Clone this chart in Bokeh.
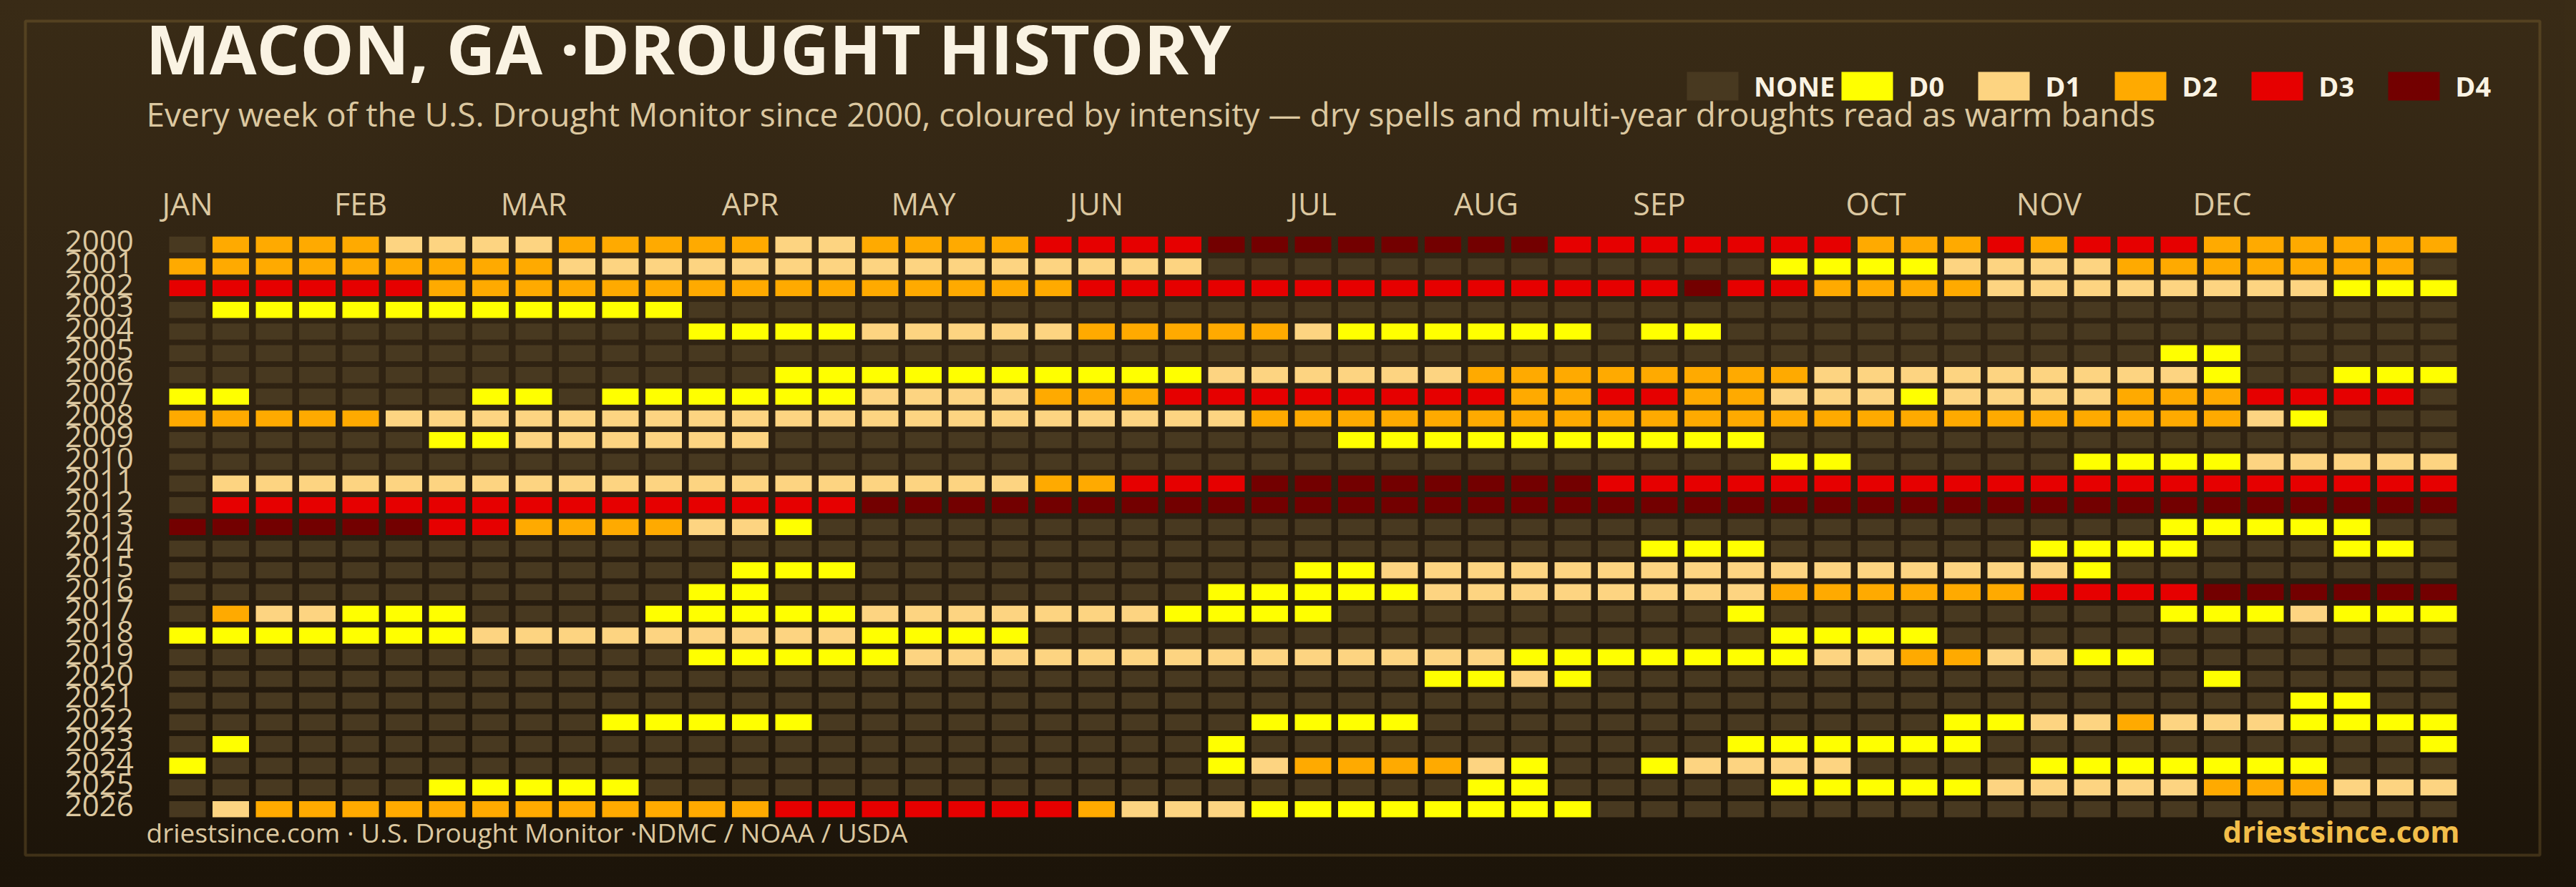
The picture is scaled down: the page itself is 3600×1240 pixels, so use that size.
from bokeh.plotting import figure
from bokeh.models import (Range1d, Label, Legend, LegendItem,
                          BoxAnnotation, InlineStyleSheet)
from bokeh.core.properties import value
from bokeh.embed import file_html
from bokeh.resources import INLINE

# ---------------- data ----------------
years = list(range(2000, 2027))
# one string per year, one character per week (53 weeks):
# '-' = none, '0'..'4' = D0..D4
week_codes = [
    "-" + "2222" + "1111" + "22222" + "11" + "2222" + "3333" + "44444444" + "3333333" + "222" + "3" + "2" + "333" + "222222",
    "222222222" + "111111111111111" + "-------------" + "0000" + "1111" + "2222222" + "-",
    "333333" + "222222222222222" + "33333333333333" + "4" + "33" + "2222" + "11111111" + "000",
    "-" + "00000000000" + "-" * 41,
    "-" * 12 + "0000" + "11111" + "22222" + "1" + "000000" + "-" + "00" + "-" * 17,
    "-" * 46 + "00" + "-----",
    "-" * 14 + "0000000000" + "111111" + "22222222" + "111111111" + "0" + "--" + "000",
    "00" + "-----" + "00" + "-" + "000000" + "1111" + "222" + "33333333" + "22" + "33" + "22" + "111" + "0" + "1111" + "222" + "3333" + "-",
    "22222" + "1" * 20 + "2" * 23 + "1" + "0" + "---",
    "------" + "00" + "111111" + "-" * 13 + "0" * 10 + "-" * 16,
    "-" * 37 + "00" + "-----" + "0000" + "11111",
    "-" + "1" * 19 + "22" + "333" + "44444444" + "3" * 20,
    "-" + "3" * 15 + "4" * 37,
    "444444" + "33" + "2222" + "11" + "0" + "-" * 31 + "00000" + "--",
    "-" * 34 + "000" + "------" + "0000" + "---" + "00" + "-",
    "-" * 13 + "000" + "-" * 10 + "00" + "1" * 16 + "0" + "-" * 8,
    "-" * 12 + "00" + "-" * 10 + "00000" + "11111111" + "222222" + "3333" + "444444",
    "-" + "2" + "11" + "000" + "----" + "00000" + "1111111" + "0000" + "-" * 9 + "0" + "-" * 9 + "000" + "1" + "000",
    "0" * 7 + "1" * 9 + "0000" + "-" * 17 + "0000" + "-" * 12,
    "-" * 12 + "00000" + "1" * 14 + "0" * 7 + "11" + "22" + "11" + "00" + "-" * 7,
    "-" * 29 + "00" + "1" + "0" + "-" * 14 + "0" + "-----",
    "-" * 49 + "00" + "--",
    "-" * 10 + "00000" + "-" * 10 + "0000" + "-" * 12 + "00" + "11" + "2" + "111" + "0000",
    "-" + "0" + "-" * 22 + "0" + "-" * 11 + "000000" + "-" * 10 + "0",
    "0" + "-" * 23 + "0" + "1" + "2222" + "1" + "0" + "--" + "0" + "1111" + "----" + "0000000" + "---",
    "------" + "00000" + "-" * 19 + "00" + "-----" + "00000" + "11111" + "222" + "111",
    "-" + "1" + "2" * 12 + "3" * 7 + "2" + "111" + "0" * 8 + "-" * 20,
]
category_codes = ["-", "0", "1", "2", "3", "4"]
category_names = ["NONE", "D0", "D1", "D2", "D3", "D4"]
category_colors = ["#483920", "#ffff00", "#fdd481", "#ffaa00", "#e60000", "#730000"]
month_names = ["JAN", "FEB", "MAR", "APR", "MAY", "JUN",
               "JUL", "AUG", "SEP", "OCT", "NOV", "DEC"]
month_weeks = [0, 4, 8, 13, 17, 21, 26, 30, 34, 39, 43, 47]

# ---------------- styling ----------------
FONT = "Open Sans"
CREAM = "#faf3e3"
TAN = "#dcc8a0"
GOLD = "#f2be4a"

W, H = 3584, 1224
PX, PY = 60.5, 30.35          # pixels per week / per year row
X0, Y0 = 261.5, 341.6          # pixel centre of first cell (week 0, year 2000)
x_start = -X0 / PX
y_top = years[0] - Y0 / PY

p = figure(width=W, height=H, output_backend="svg", toolbar_location=None,
           x_range=Range1d(x_start, x_start + W / PX),
           y_range=Range1d(y_top + H / PY, y_top),
           x_axis_type=None, y_axis_type=None,
           min_border=0)
p.background_fill_alpha = 0
p.border_fill_alpha = 0
p.outline_line_color = None
p.grid.visible = False
p.stylesheets = [InlineStyleSheet(css=":host { background: linear-gradient(180deg, #392b16 0%, #2c2011 55%, #1c1409 100%); }")]

# ---------------- cells ----------------
items = []
for code, name, color in zip(category_codes, category_names, category_colors):
    xs, ys = [], []
    for yr, row in zip(years, week_codes):
        for wk, ch in enumerate(row):
            if ch == code:
                xs.append(wk)
                ys.append(yr)
    r = p.rect(x=xs, y=ys, width=0.843, height=0.742,
               fill_color=color, line_color=None)
    items.append(LegendItem(label=name, renderers=[r]))

# year labels (left of first column) and month labels (above first row)
p.text(x=[-0.5] * len(years), y=years, text=[str(y) for y in years],
       x_offset=-45, y_offset=-5,
       text_font=value(FONT), text_font_size="42px", text_color=TAN,
       text_align="right", text_baseline="middle")
p.text(x=month_weeks, y=[years[0] - 0.5] * len(month_weeks), text=month_names,
       y_offset=-42,
       text_font=value(FONT), text_font_size="43px", text_color=TAN,
       text_align="center", text_baseline="middle")

legend = Legend(items=items, orientation="horizontal",
                location=(2348, 1078),
                glyph_width=90, glyph_height=50,
                label_standoff=13, label_width=88, label_height=50,
                spacing=0, padding=0, margin=0,
                background_fill_alpha=0, border_line_color=None,
                label_text_font=FONT, label_text_font_size="38px",
                label_text_font_style="bold", label_text_color=CREAM)
p.add_layout(legend)

# ---------------- frame & texts ----------------
p.add_layout(BoxAnnotation(left=35, right=3549, top=1195, bottom=29,
                           left_units="screen", right_units="screen",
                           top_units="screen", bottom_units="screen",
                           fill_alpha=0, line_color="#94763a", line_width=4))

p.add_layout(Label(x=203, y=1158, x_units="screen", y_units="screen",
                   text="MACON, GA ·DROUGHT HISTORY", text_font=FONT,
                   text_font_size="95px", text_font_style="bold",
                   text_color=CREAM, text_baseline="middle"))
p.add_layout(Label(x=204, y=1066, x_units="screen", y_units="screen",
                   text="Every week of the U.S. Drought Monitor since 2000, coloured by intensity \u2014 dry spells and multi-year droughts read as warm bands",
                   text_font=FONT, text_font_size="46px",
                   text_color=TAN, text_baseline="middle"))
p.add_layout(Label(x=204, y=61, x_units="screen", y_units="screen",
                   text="driestsince.com  \u00b7 U.S. Drought Monitor \u00b7NDMC / NOAA / USDA",
                   text_font=FONT, text_font_size="37px",
                   text_color=TAN, text_baseline="middle"))
p.add_layout(Label(x=3437, y=63, x_units="screen", y_units="screen",
                   text="driestsince.com", text_font=FONT,
                   text_font_size="42px", text_font_style="bold",
                   text_color=GOLD, text_baseline="middle",
                   text_align="right"))

html = file_html(p, INLINE)
html = html.replace("</head>", "<style>html{height:100%;background:linear-gradient(180deg,#3a2c16 0%,#2c2011 55%,#1c1409 100%);}</style></head>")
open("out.html", "w").write(html)
